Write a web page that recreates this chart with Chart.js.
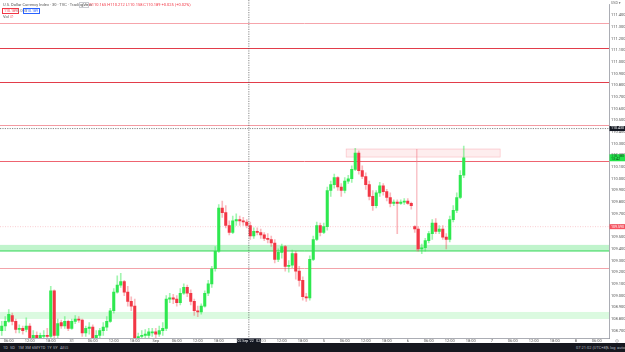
<!DOCTYPE html>
<html>
<head>
<meta charset="utf-8">
<script src="https://cdn.jsdelivr.net/npm/chart.js@4.4.0/dist/chart.umd.min.js"></script>
<style>
html, body { margin: 0; padding: 0; background: #fff; overflow: hidden; }
#wrap { position: relative; width: 625px; height: 352px; font-family: 'Roboto', 'DejaVu Sans', sans-serif; }
#c { position: absolute; left: 0; top: 0; }
.lg { position: absolute; font-size: 4px; line-height: 5px; white-space: nowrap; color: #555; }
.bx { position: absolute; font-size: 3.6px; line-height: 4px; padding: 0 1px; white-space: nowrap; }
#bar { position: absolute; left: 0; top: 343px; width: 625px; height: 9px; background: #16181f; color: #b2b5be; font-size: 4px; }
#bar span { position: absolute; top: 2.5px; line-height: 4px; white-space: nowrap; }
</style>
</head>
<body>
<div id="wrap">
  <canvas id="c" width="625" height="343"></canvas>
  <div class="lg" style="left:3px;top:1.5px">U.S. Dollar Currency Index · 30 · TVC · TradingView</div>
  <div class="bx" style="left:79px;top:2px;border:0.5px solid #c9cbd1;color:#888">◎ ▾</div>
  <div class="lg" style="left:89px;top:1.5px;color:#f23645">O110.165 H110.212 L110.158 C110.189 +0.025 (+0.02%)</div>
  <div class="bx" style="left:2px;top:8px;border:0.6px solid #f23645;color:#f23645">110.189</div>
  <div class="lg" style="left:17px;top:7.5px;color:#888">0.000</div>
  <div class="bx" style="left:23px;top:8px;border:0.6px solid #2962ff;color:#2962ff">110.189</div>
  <div class="lg" style="left:3px;top:13.5px">Vol</div>
  <div class="lg" style="left:10px;top:13.5px;color:#f23645">∅</div>
  <div id="bar">
    <span style="left:3px">1D</span><span style="left:10px">5D</span><span style="left:18px">1M</span>
    <span style="left:25px">3M</span><span style="left:32px">6M</span><span style="left:38px">YTD</span>
    <span style="left:47px">1Y</span><span style="left:53px">5Y</span><span style="left:60px">All</span>
    <span style="left:65px">⊡</span>
    <span style="left:576px">07:21:02 (UTC+8)</span><span style="left:602px">-</span>
    <span style="left:606px">%</span><span style="left:610px">log</span><span style="left:617px">auto</span>
  </div>
</div>
<script>
// tick labels for the time axis
const days = ['30', '31', 'Sep', '2', '5', '6', '7', '8'];
const hourTicks = ['06:00', '12:00', '18:00'];

// hourly candles, 30 Aug 04:00 .. 6 Sep 16:00
const opens = [
  108.70, 108.74, 108.78, 108.83, 108.78, 108.71, 108.72, 108.71, 108.74, 108.64,
  108.66, 108.64, 108.65, 108.66, 108.65, 109.04, 108.66, 108.77, 108.74, 108.78,
  108.72, 108.78, 108.80, 108.79, 108.68, 108.72, 108.73, 108.64, 108.66, 108.70,
  108.73, 108.78, 108.87, 109.03, 109.09, 109.12, 109.03, 108.95, 108.91, 108.64,
  108.65, 108.66, 108.66, 108.68, 108.69, 108.67, 108.70, 108.72, 108.97, 108.98,
  108.97, 108.94, 109.02, 109.07, 109.02, 108.95, 108.87, 108.86, 108.91, 109.02,
  109.10, 109.23, 109.38, 109.75, 109.71, 109.60, 109.54, 109.64, 109.65, 109.64,
  109.63, 109.60, 109.51, 109.55, 109.54, 109.52, 109.49, 109.48, 109.45, 109.31,
  109.37, 109.42, 109.25, 109.26, 109.36, 109.21, 109.13, 108.99, 108.98, 109.31,
  109.48, 109.60, 109.54, 109.59, 109.90, 109.95, 110.01, 109.93, 109.90, 109.98,
  110.00, 110.08, 110.22, 110.07, 110.02, 109.95, 109.85, 109.77, 109.88, 109.94,
  109.89, 109.84, 109.79, 109.80, 109.79, 109.80, 109.81, 109.79, 109.59, 109.57,
  109.40, 109.41, 109.47, 109.53, 109.62, 109.55, 109.57, 109.50, 109.48, 109.65,
  109.73, 109.84, 110.03
];
const closes = [
  108.74, 108.78, 108.84, 108.78, 108.71, 108.72, 108.70, 108.74, 108.64, 108.66,
  108.64, 108.66, 108.66, 108.65, 109.04, 108.66, 108.76, 108.74, 108.78, 108.72,
  108.78, 108.80, 108.79, 108.68, 108.72, 108.73, 108.64, 108.66, 108.70, 108.73,
  108.78, 108.87, 109.03, 109.09, 109.12, 109.03, 108.95, 108.91, 108.64, 108.65,
  108.66, 108.67, 108.69, 108.69, 108.67, 108.70, 108.72, 108.97, 108.98, 108.97,
  108.94, 109.02, 109.07, 109.02, 108.95, 108.87, 108.86, 108.91, 109.02, 109.10,
  109.23, 109.38, 109.75, 109.71, 109.60, 109.54, 109.64, 109.65, 109.64, 109.63,
  109.60, 109.51, 109.55, 109.54, 109.52, 109.49, 109.48, 109.45, 109.31, 109.37,
  109.42, 109.25, 109.26, 109.36, 109.21, 109.13, 108.99, 108.98, 109.31, 109.48,
  109.60, 109.54, 109.59, 109.90, 109.95, 110.01, 109.93, 109.90, 109.98, 110.00,
  110.08, 110.22, 110.07, 110.02, 109.95, 109.85, 109.77, 109.88, 109.94, 109.89,
  109.84, 109.79, 109.80, 109.79, 109.80, 109.81, 109.79, 109.77, 109.57, 109.40,
  109.41, 109.47, 109.53, 109.62, 109.55, 109.57, 109.50, 109.48, 109.65, 109.73,
  109.84, 110.03, 110.18
];
const highs = [
  108.78, 108.82, 108.88, 108.85, 108.80, 108.75, 108.74, 108.81, 108.76, 108.70,
  108.69, 108.68, 108.70, 108.72, 109.08, 109.05, 108.80, 108.79, 108.82, 108.79,
  108.80, 108.83, 108.82, 108.80, 108.74, 108.77, 108.75, 108.70, 108.72, 108.77,
  108.82, 108.89, 109.06, 109.17, 109.19, 109.13, 109.08, 108.99, 108.97, 108.68,
  108.70, 108.71, 108.72, 108.72, 108.72, 108.74, 108.77, 109.00, 109.02, 109.01,
  109.00, 109.06, 109.10, 109.09, 109.05, 108.97, 108.91, 108.93, 109.04, 109.13,
  109.25, 109.42, 109.78, 109.81, 109.77, 109.64, 109.68, 109.70, 109.68, 109.67,
  109.65, 109.63, 109.58, 109.58, 109.57, 109.54, 109.53, 109.51, 109.48, 109.40,
  109.44, 109.43, 109.30, 109.39, 109.38, 109.25, 109.16, 109.02, 109.34, 109.51,
  109.63, 109.62, 109.62, 109.93, 109.98, 110.04, 110.02, 109.96, 110.01, 110.03,
  110.11, 110.26, 110.24, 110.11, 110.05, 109.98, 109.90, 109.90, 109.97, 109.96,
  109.91, 109.88, 109.82, 109.82, 109.82, 109.83, 109.83, 109.80, 109.60, 109.59,
  109.44, 109.49, 109.55, 109.65, 109.66, 109.60, 109.60, 109.53, 109.68, 109.77,
  109.88, 110.07, 110.28
];
const lows = [
  108.66, 108.70, 108.77, 108.75, 108.68, 108.68, 108.67, 108.69, 108.61, 108.61,
  108.61, 108.61, 108.61, 108.62, 108.64, 108.63, 108.64, 108.72, 108.72, 108.70,
  108.71, 108.76, 108.77, 108.65, 108.65, 108.67, 108.61, 108.61, 108.63, 108.66,
  108.70, 108.77, 108.85, 109.02, 109.07, 109.00, 108.91, 108.87, 108.61, 108.61,
  108.62, 108.63, 108.64, 108.65, 108.64, 108.65, 108.66, 108.70, 108.94, 108.93,
  108.91, 108.92, 109.01, 108.99, 108.92, 108.83, 108.82, 108.84, 108.90, 109.00,
  109.07, 109.21, 109.37, 109.67, 109.58, 109.52, 109.53, 109.60, 109.60, 109.60,
  109.58, 109.48, 109.49, 109.52, 109.49, 109.47, 109.45, 109.42, 109.28, 109.29,
  109.32, 109.21, 109.20, 109.24, 109.14, 109.08, 108.96, 108.95, 108.96, 109.30,
  109.47, 109.51, 109.53, 109.56, 109.85, 109.92, 109.90, 109.85, 109.88, 109.96,
  109.97, 110.07, 110.04, 110.00, 109.91, 109.82, 109.73, 109.75, 109.85, 109.86,
  109.81, 109.76, 109.77, 109.53, 109.78, 109.78, 109.78, 109.74, 109.54, 109.38,
  109.36, 109.38, 109.45, 109.48, 109.53, 109.53, 109.48, 109.40, 109.46, 109.63,
  109.71, 109.83, 110.01
];

// drawn levels and zones (price units, slot index for time)
const resistLevels = [111.33, 111.12, 110.83, 110.46, 110.15, 109.24];
const supportZones = [[109.374, 109.434], [108.80, 108.86]];
const rangeBox = [98.4, 142.4, 110.186, 110.255];
const markerLine = [118.6, 109.38, 110.255];
const replayLevel = 109.59;
const crosshair = [70.6, 110.43];

let slotLabels = [];
days.forEach((d, i) => {
    for (let h = 0; h < 24; h++) {
        if (i === 0 && h < 4) continue;
        slotLabels.push(h === 0 ? d : (h % 6 === 0 ? hourTicks[h / 6 - 1] : ''));
    }
});
slotLabels = slotLabels.slice(0, 174);

const wickData = highs.map((h, i) => [lows[i], h]);
const bodyData = opens.map((o, i) => [o, closes[i]]);
const up = i => closes[i] >= opens[i];

function tag(ctx, area, yPix, h, bg, fg, lines) {
    ctx.fillStyle = bg;
    ctx.fillRect(area.right + 0.5, yPix - h / 2, 16, h);
    ctx.fillStyle = fg;
    ctx.font = '3.6px Roboto, DejaVu Sans, sans-serif';
    ctx.textAlign = 'left';
    ctx.textBaseline = 'middle';
    lines.forEach((t, k) => ctx.fillText(t, area.right + 2, yPix - (lines.length - 1) * 1.8 + k * 3.6));
}

const levelsPlugin = {
    id: 'levels',
    beforeDatasetsDraw(chart) {
        const { ctx, chartArea: a, scales: { x, y } } = chart;
        ctx.save();
        // green zones
        supportZones.forEach(([lo, hi], i) => {
            const t = y.getPixelForValue(hi), b = y.getPixelForValue(lo);
            ctx.fillStyle = i === 0 ? 'rgba(60,222,95,0.32)' : 'rgba(90,230,115,0.22)';
            ctx.fillRect(a.left, t, a.width, b - t);
        });
        ctx.strokeStyle = '#4fdc6c';
        ctx.lineWidth = 1;
        const zb = y.getPixelForValue(109.383);
        ctx.beginPath(); ctx.moveTo(a.left, zb); ctx.lineTo(a.right, zb); ctx.stroke();

        // pink range box
        const bx1 = x.getPixelForValue(rangeBox[0]), bx2 = x.getPixelForValue(rangeBox[1]);
        const by1 = y.getPixelForValue(rangeBox[3]), by2 = y.getPixelForValue(rangeBox[2]);
        ctx.fillStyle = 'rgba(242,54,69,0.09)';
        ctx.fillRect(bx1, by1, bx2 - bx1, by2 - by1);
        ctx.strokeStyle = 'rgba(242,54,69,0.3)';
        ctx.lineWidth = 0.6;
        ctx.strokeRect(bx1, by1, bx2 - bx1, by2 - by1);

        // horizontal levels
        const styles = [['#f6a4ab', 1], ['#e23d4a', 1.2], ['#e23d4a', 1.2], ['#f39aa2', 1], ['#ee6470', 1], ['#f3a3aa', 1]];
        resistLevels.forEach((v, i) => {
            const py = Math.round(y.getPixelForValue(v)) + 0.5;
            ctx.strokeStyle = styles[i][0];
            ctx.lineWidth = styles[i][1];
            ctx.beginPath(); ctx.moveTo(a.left, py); ctx.lineTo(a.right, py); ctx.stroke();
        });

        // vertical marker
        const mx = x.getPixelForValue(markerLine[0]);
        ctx.strokeStyle = '#f07f89';
        ctx.lineWidth = 0.7;
        ctx.beginPath();
        ctx.moveTo(mx, y.getPixelForValue(markerLine[2]));
        ctx.lineTo(mx, y.getPixelForValue(markerLine[1]));
        ctx.stroke();

        // replay level dotted
        const ry = y.getPixelForValue(replayLevel);
        ctx.strokeStyle = '#f6a9b0';
        ctx.lineWidth = 0.6;
        ctx.setLineDash([1, 1.5]);
        ctx.beginPath(); ctx.moveTo(a.left, ry); ctx.lineTo(a.right, ry); ctx.stroke();
        ctx.restore();
    },
    afterDraw(chart) {
        const { ctx, chartArea: a, scales: { x, y } } = chart;
        ctx.save();
        // crosshair
        const cx = x.getPixelForValue(crosshair[0]);
        const cy = y.getPixelForValue(crosshair[1]);
        ctx.strokeStyle = '#555';
        ctx.lineWidth = 0.7;
        ctx.setLineDash([1.2, 1.2]);
        ctx.beginPath(); ctx.moveTo(cx, 0); ctx.lineTo(cx, a.bottom); ctx.stroke();
        ctx.beginPath(); ctx.moveTo(a.left, cy); ctx.lineTo(a.right, cy); ctx.stroke();
        ctx.setLineDash([]);

        // price tags
        tag(ctx, a, cy, 5, '#131722', '#fff', [crosshair[1].toFixed(3)]);
        tag(ctx, a, y.getPixelForValue(closes[closes.length - 1]), 7, '#22e34a', '#0b3d14',
            [closes[closes.length - 1].toFixed(3), '13:42']);
        tag(ctx, a, y.getPixelForValue(replayLevel), 5, '#f7525f', '#fff', [replayLevel.toFixed(3)]);

        // date tag under crosshair
        ctx.fillStyle = '#131722';
        ctx.fillRect(cx - 12, a.bottom + 0.5, 24, 5);
        ctx.fillStyle = '#fff';
        ctx.font = '3.5px Roboto, DejaVu Sans, sans-serif';
        ctx.textAlign = 'center';
        ctx.textBaseline = 'middle';
        ctx.fillText("Fri 02 Sep '22   02:00", cx, a.bottom + 3);

        // currency label and settings mark
        ctx.fillStyle = '#666';
        ctx.font = '3.6px Roboto, DejaVu Sans, sans-serif';
        ctx.textAlign = 'left';
        ctx.fillText('USD ▾', a.right + 2, 3);
        ctx.strokeStyle = '#888';
        ctx.lineWidth = 0.5;
        ctx.beginPath(); ctx.arc(a.right + 8, a.bottom + 3, 1.4, 0, Math.PI * 2); ctx.stroke();
        ctx.restore();
    }
};

var ctx = document.getElementById('c').getContext('2d');
var chartDxy = new Chart(ctx, {
    type: 'bar',
    data: {
        labels: slotLabels,
        datasets: [{
            data: wickData,
            grouped: false,
            order: 2,
            barThickness: 1,
            backgroundColor: c => up(c.dataIndex) ? 'rgba(46,232,79,0.45)' : 'rgba(242,54,69,0.35)'
        }, {
            data: bodyData,
            grouped: false,
            order: 1,
            barThickness: 2.4,
            backgroundColor: c => up(c.dataIndex) ? '#2ee84f' : '#f23645'
        }]
    },
    options: {
        responsive: false,
        animation: false,
        layout: { padding: 0 },
        plugins: { legend: { display: false }, tooltip: { enabled: false } },
        scales: {
            x: {
                grid: { display: false, drawTicks: false },
                border: { color: '#9598a1', width: 0.8 },
                ticks: {
                    autoSkip: false, maxRotation: 0, padding: 1,
                    font: { size: 4, family: 'Roboto' }, color: '#555',
                    callback: (v) => slotLabels[v]
                },
                afterFit: s => { s.height = 5; }
            },
            y: {
                position: 'right',
                min: 108.637,
                max: 111.493,
                grid: { display: false, drawTicks: false },
                border: { color: '#9598a1', width: 0.8 },
                ticks: {
                    stepSize: 0.1, includeBounds: false, padding: 2,
                    font: { size: 4, family: 'Roboto' }, color: '#555',
                    callback: v => v.toFixed(3)
                },
                afterFit: s => { s.width = 16; }
            }
        }
    },
    plugins: [levelsPlugin]
});
</script>
</body>
</html>
